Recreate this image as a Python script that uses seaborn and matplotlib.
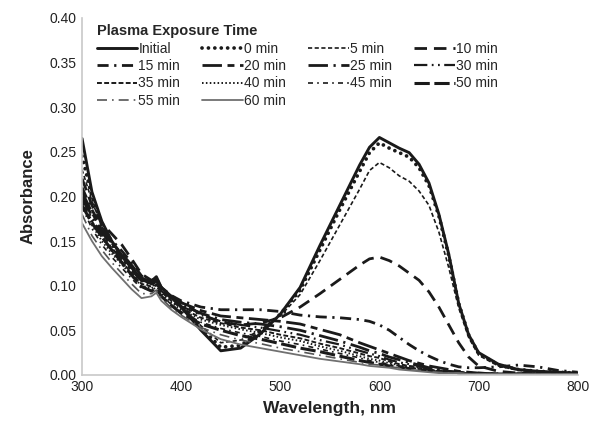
import numpy as np
import pandas as pd
import matplotlib
matplotlib.use("Agg")
import matplotlib.pyplot as plt
import seaborn as sns

# wavelength grid (nm)
wavelength = [300, 310, 320, 330, 340, 350, 360, 370, 375, 380, 390, 400, 420, 440,
              460, 480, 500, 520, 540, 560, 580, 590, 600, 610, 620, 630, 640, 650,
              660, 670, 680, 690, 700, 720, 740, 760, 780, 800]

abs_initial = [0.265, 0.205, 0.172, 0.150, 0.134, 0.120, 0.108, 0.105, 0.110, 0.098, 0.088, 0.076, 0.050, 0.027,
               0.030, 0.046, 0.068, 0.098, 0.145, 0.190, 0.235, 0.255, 0.266, 0.260, 0.254, 0.249, 0.236, 0.215,
               0.180, 0.135, 0.080, 0.045, 0.025, 0.012, 0.006, 0.004, 0.003, 0.002]
abs_0 = [0.245, 0.200, 0.168, 0.148, 0.132, 0.118, 0.106, 0.103, 0.108, 0.097, 0.087, 0.077, 0.052, 0.031,
         0.033, 0.048, 0.068, 0.095, 0.140, 0.185, 0.228, 0.249, 0.260, 0.254, 0.249, 0.244, 0.232, 0.212,
         0.178, 0.133, 0.080, 0.045, 0.024, 0.011, 0.006, 0.004, 0.003, 0.002]
abs_5 = [0.230, 0.195, 0.166, 0.147, 0.133, 0.119, 0.107, 0.104, 0.108, 0.097, 0.087, 0.077, 0.055, 0.036,
         0.039, 0.050, 0.066, 0.090, 0.128, 0.168, 0.208, 0.229, 0.238, 0.232, 0.223, 0.217, 0.206, 0.190,
         0.160, 0.120, 0.075, 0.042, 0.022, 0.010, 0.005, 0.003, 0.002, 0.002]
abs_10 = [0.220, 0.190, 0.170, 0.158, 0.146, 0.130, 0.113, 0.106, 0.108, 0.098, 0.089, 0.081, 0.068, 0.059,
          0.056, 0.058, 0.064, 0.076, 0.091, 0.107, 0.123, 0.130, 0.132, 0.128, 0.122, 0.114, 0.106, 0.093,
          0.076, 0.056, 0.036, 0.020, 0.010, 0.004, 0.002, 0.001, 0.001, 0.001]
abs_15 = [0.210, 0.185, 0.165, 0.151, 0.139, 0.126, 0.111, 0.104, 0.106, 0.097, 0.089, 0.083, 0.076, 0.073,
          0.073, 0.073, 0.071, 0.067, 0.065, 0.064, 0.062, 0.060, 0.056, 0.050, 0.042, 0.034, 0.027, 0.021,
          0.016, 0.012, 0.009, 0.008, 0.008, 0.009, 0.011, 0.009, 0.005, 0.003]
abs_20 = [0.205, 0.182, 0.162, 0.148, 0.136, 0.123, 0.109, 0.103, 0.105, 0.096, 0.088, 0.081, 0.072, 0.066,
          0.064, 0.062, 0.060, 0.057, 0.051, 0.045, 0.036, 0.032, 0.028, 0.024, 0.020, 0.016, 0.013, 0.010,
          0.008, 0.006, 0.004, 0.003, 0.002, 0.001, 0.001, 0.001, 0.001, 0.001]
abs_25 = [0.200, 0.178, 0.160, 0.145, 0.133, 0.120, 0.107, 0.102, 0.104, 0.095, 0.086, 0.079, 0.069, 0.062,
          0.059, 0.057, 0.054, 0.050, 0.044, 0.038, 0.031, 0.027, 0.024, 0.020, 0.017, 0.014, 0.011, 0.008,
          0.006, 0.004, 0.003, 0.002, 0.002, 0.001, 0.001, 0.001, 0.001, 0.001]
abs_30 = [0.198, 0.175, 0.157, 0.142, 0.130, 0.117, 0.105, 0.100, 0.102, 0.094, 0.085, 0.077, 0.067, 0.060,
          0.056, 0.053, 0.049, 0.045, 0.039, 0.034, 0.027, 0.024, 0.021, 0.017, 0.014, 0.012, 0.010, 0.007,
          0.005, 0.004, 0.003, 0.002, 0.001, 0.001, 0.001, 0.001, 0.001, 0.001]
abs_35 = [0.195, 0.172, 0.154, 0.139, 0.127, 0.114, 0.102, 0.099, 0.101, 0.093, 0.083, 0.075, 0.064, 0.058,
          0.053, 0.050, 0.045, 0.041, 0.035, 0.030, 0.024, 0.021, 0.019, 0.015, 0.012, 0.010, 0.009, 0.006,
          0.004, 0.003, 0.003, 0.002, 0.001, 0.001, 0.001, 0.001, 0.001, 0.001]
abs_40 = [0.192, 0.168, 0.150, 0.136, 0.124, 0.111, 0.100, 0.097, 0.100, 0.091, 0.081, 0.073, 0.062, 0.056,
          0.051, 0.047, 0.042, 0.038, 0.032, 0.027, 0.021, 0.018, 0.016, 0.013, 0.011, 0.009, 0.008, 0.006,
          0.004, 0.003, 0.002, 0.002, 0.001, 0.001, 0.001, 0.001, 0.001, 0.001]
abs_45 = [0.188, 0.164, 0.146, 0.132, 0.120, 0.108, 0.097, 0.095, 0.098, 0.089, 0.079, 0.071, 0.059, 0.052,
          0.047, 0.043, 0.038, 0.034, 0.029, 0.024, 0.019, 0.016, 0.014, 0.012, 0.010, 0.008, 0.007, 0.005,
          0.004, 0.003, 0.002, 0.002, 0.001, 0.001, 0.001, 0.001, 0.001, 0.001]
abs_50 = [0.190, 0.170, 0.155, 0.140, 0.126, 0.112, 0.099, 0.094, 0.097, 0.088, 0.078, 0.069, 0.057, 0.050,
          0.044, 0.040, 0.035, 0.030, 0.026, 0.021, 0.016, 0.014, 0.012, 0.010, 0.009, 0.007, 0.006, 0.005,
          0.004, 0.003, 0.002, 0.001, 0.001, 0.001, 0.001, 0.001, 0.001, 0.001]
abs_55 = [0.180, 0.156, 0.140, 0.126, 0.114, 0.102, 0.091, 0.091, 0.095, 0.086, 0.075, 0.067, 0.053, 0.045,
          0.039, 0.035, 0.030, 0.026, 0.022, 0.018, 0.014, 0.012, 0.011, 0.009, 0.008, 0.006, 0.005, 0.004,
          0.003, 0.002, 0.002, 0.001, 0.001, 0.001, 0.001, 0.001, 0.001, 0.001]
abs_60 = [0.170, 0.150, 0.133, 0.120, 0.108, 0.096, 0.086, 0.088, 0.092, 0.083, 0.073, 0.065, 0.051, 0.040,
          0.034, 0.030, 0.026, 0.022, 0.018, 0.015, 0.012, 0.010, 0.009, 0.008, 0.006, 0.005, 0.004, 0.003,
          0.002, 0.002, 0.002, 0.001, 0.001, 0.001, 0.001, 0.001, 0.001, 0.001]

labels = ['Initial', '0 min', '5 min', '10 min', '15 min', '20 min', '25 min',
          '30 min', '35 min', '40 min', '45 min', '50 min', '55 min', '60 min']
series = [abs_initial, abs_0, abs_5, abs_10, abs_15, abs_20, abs_25,
          abs_30, abs_35, abs_40, abs_45, abs_50, abs_55, abs_60]

# (linestyle, linewidth, color, round caps)
styles = [
    ('-', 2.1, '#1a1a1a', False),
    ((0, (0.01, 1.7)), 2.7, '#1a1a1a', True),
    ((0, (2.5, 1.5)), 1.2, '#1a1a1a', False),
    ((0, (4.5, 2.5)), 2.0, '#1a1a1a', False),
    ((0, (4, 2, 0.8, 2)), 2.0, '#1a1a1a', False),
    ((0, (7, 2, 2.5, 2)), 2.0, '#1a1a1a', False),
    ((0, (7, 2, 0.8, 2)), 2.0, '#1a1a1a', False),
    ((0, (6, 2, 0.8, 2, 0.8, 2)), 1.6, '#1a1a1a', False),
    ((0, (2.5, 1.2)), 1.4, '#1a1a1a', False),
    ((0, (0.8, 1.2)), 1.4, '#1a1a1a', False),
    ((0, (3, 2.5, 1, 2.5)), 1.2, '#1a1a1a', False),
    ((0, (5, 1.5)), 2.2, '#1a1a1a', False),
    ((0, (6, 3, 1, 3)), 1.2, '#555555', False),
    ('-', 1.3, '#707070', False),
]

sns.set_style("white")
plt.rcParams['font.family'] = ['Liberation Sans', 'DejaVu Sans']

fig, ax = plt.subplots(figsize=(6.03, 4.26), dpi=100)
fig.subplots_adjust(left=0.136, right=0.958, bottom=0.12, top=0.958)

for lab, vals, (ls, lw, col, rnd) in zip(labels, series, styles):
    df = pd.DataFrame({'wl': wavelength, 'abs': vals})
    sns.lineplot(data=df, x='wl', y='abs', ax=ax, color=col, lw=lw,
                 linestyle=ls, label=lab,
                 dash_capstyle='round' if rnd else 'butt')

ax.set_xlim(300, 800)
ax.set_ylim(0, 0.40)
ax.set_xticks(np.arange(300, 801, 100))
ax.set_yticks(np.arange(0, 0.401, 0.05))
ax.set_yticklabels([f'{v:.2f}' for v in np.arange(0, 0.401, 0.05)])
ax.tick_params(length=0, labelsize=10, colors='#222222', pad=4)
ax.set_xlabel('Wavelength, nm', fontsize=12.5, fontweight='bold', color='#222222', labelpad=5)
ax.set_ylabel('Absorbance', fontsize=12, fontweight='bold', color='#222222', labelpad=10)

for side in ['top', 'right']:
    ax.spines[side].set_visible(False)
for side in ['left', 'bottom']:
    ax.spines[side].set_color('#c8c8c8')
    ax.spines[side].set_linewidth(1.2)

# reorder so the legend reads row by row across 4 columns
handles, labs = ax.get_legend_handles_labels()
order = [0, 4, 8, 12, 1, 5, 9, 13, 2, 6, 10, 3, 7, 11]
ax.legend([handles[i] for i in order], [labs[i] for i in order],
          title='Plasma Exposure Time', ncol=4, frameon=False,
          loc='upper left', bbox_to_anchor=(0.01, 1.01), fontsize=10,
          title_fontproperties={'weight': 'bold', 'size': 10.5},
          alignment='left', handlelength=2.9, handletextpad=0.1,
          columnspacing=1.6, labelspacing=0.25, borderpad=0.2)

fig.savefig('out.png', dpi=100)
